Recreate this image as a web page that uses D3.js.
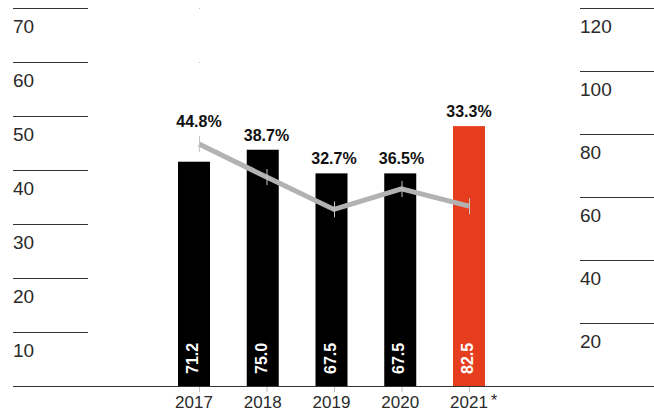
<!DOCTYPE html>
<html>
<head>
<meta charset="utf-8">
<script src="https://cdn.jsdelivr.net/npm/d3@7"></script>
<style>
  html, body { margin: 0; padding: 0; background: #fff; }
  svg { display: block; font-family: "Liberation Sans", Arial, sans-serif; }
</style>
</head>
<body>
<svg id="chart" width="654" height="412"></svg>
<script>
// Years shown along the bottom
const years = ["2017", "2018", "2019", "2020", "2021"];
// Bar series (right axis, 0–120)
const barValues = [71.2, 75.0, 67.5, 67.5, 82.5];
// Line series in percent (left axis, 0–70)
const pctValues = [44.8, 38.7, 32.7, 36.5, 33.3];
// Axis tick labels
const leftTicks = [10, 20, 30, 40, 50, 60, 70];
const rightTicks = [20, 40, 60, 80, 100, 120];
// Years carrying a footnote marker
const footnoted = ["2021"];
const highlightYear = "2021";

const svg = d3.select("#chart");
const baseY = 386, topY = 8;

const yLeft = d3.scaleLinear().domain([0, 70]).range([baseY, topY]);
const yRight = d3.scaleLinear().domain([0, 120]).range([baseY, topY]);
const xBar = d3.scalePoint().domain(years).range([194, 469]);
const xLine = d3.scalePoint().domain(years).range([199, 469]);
const barW = 32;

// Left axis: short rules with labels below
const leftAxis = d3.axisRight(yLeft).tickValues(leftTicks).tickSize(75).tickFormat(d3.format("d"));
const gl = svg.append("g").attr("transform", "translate(13,0)").call(leftAxis);
gl.select(".domain").remove();
gl.selectAll(".tick line").attr("stroke", "#333").attr("stroke-width", 1);
gl.selectAll(".tick text")
  .attr("x", 0).attr("dy", 24).attr("text-anchor", "start")
  .attr("fill", "#2a2a2a").style("font-size", "19px").style("font-family", "'Liberation Sans', Arial, sans-serif");

// Right axis
const rightAxis = d3.axisRight(yRight).tickValues(rightTicks).tickSize(74).tickFormat(d3.format("d"));
const gr = svg.append("g").attr("transform", "translate(580,0)").call(rightAxis);
gr.select(".domain").remove();
gr.selectAll(".tick line").attr("stroke", "#333").attr("stroke-width", 1);
gr.selectAll(".tick text")
  .attr("x", 0).attr("dy", 24).attr("text-anchor", "start")
  .attr("fill", "#2a2a2a").style("font-size", "19px").style("font-family", "'Liberation Sans', Arial, sans-serif");

// Faint dotted guide at the first category
svg.append("line")
  .attr("x1", xLine(years[0]) + 0.5).attr("x2", xLine(years[0]) + 0.5)
  .attr("y1", topY).attr("y2", baseY)
  .attr("stroke", "#999").attr("stroke-width", 1)
  .attr("stroke-dasharray", "1," + (yLeft(0) - yLeft(10) - 1))
  .attr("opacity", 0.6);

// Bars
svg.append("g").selectAll("rect").data(years).join("rect")
  .attr("x", d => xBar(d) - barW / 2)
  .attr("width", barW)
  .attr("y", (d, i) => yRight(barValues[i]))
  .attr("height", (d, i) => baseY - yRight(barValues[i]))
  .attr("fill", d => d === highlightYear ? "#e63d1e" : "#000");

// Bar values, rotated, near the bottom
svg.append("g").selectAll("text").data(years).join("text")
  .attr("transform", d => `translate(${xBar(d) - 1.5},${baseY - 12}) rotate(-90)`)
  .attr("dy", "0.35em")
  .attr("fill", "#fff")
  .style("font-size", "16px").style("font-weight", "bold")
  .text((d, i) => barValues[i].toFixed(1));

// Baseline
svg.append("line")
  .attr("x1", 13).attr("x2", 654).attr("y1", baseY + 0.5).attr("y2", baseY + 0.5)
  .attr("stroke", "#333").attr("stroke-width", 1.2);

// Small ticks below the baseline
svg.append("g").selectAll("line").data(years).join("line")
  .attr("x1", d => xLine(d) + 0.5).attr("x2", d => xLine(d) + 0.5)
  .attr("y1", baseY + 1).attr("y2", baseY + 6)
  .attr("stroke", "#bbb").attr("stroke-width", 1);

// Percent line
const line = d3.line().x((d, i) => xLine(years[i])).y(d => yLeft(d));
svg.append("path").datum(pctValues)
  .attr("d", line).attr("fill", "none")
  .attr("stroke", "#b2b2b2").attr("stroke-width", 5);

// Vertical markers at each point
svg.append("g").selectAll("line").data(years).join("line")
  .attr("x1", d => xLine(d) + 0.5).attr("x2", d => xLine(d) + 0.5)
  .attr("y1", (d, i) => yLeft(pctValues[i]) - 8)
  .attr("y2", (d, i) => yLeft(pctValues[i]) + 8)
  .attr("stroke", "#c4c4c4").attr("stroke-width", 1);

// Percent labels above the higher of bar top and point
svg.append("g").selectAll("text").data(years).join("text")
  .attr("x", d => xLine(d))
  .attr("y", (d, i) => Math.min(yRight(barValues[i]), yLeft(pctValues[i]) - 8) - 9)
  .attr("text-anchor", "middle")
  .attr("fill", "#111")
  .style("font-size", "16px").style("font-weight", "bold")
  .text((d, i) => pctValues[i].toFixed(1) + "%");

// Year labels
const xl = svg.append("g").selectAll("text").data(years).join("text")
  .attr("y", 408)
  .attr("fill", "#2a2a2a")
  .style("font-size", "17px");
xl.each(function(d) {
  const t = d3.select(this).text(d);
  const w = this.getComputedTextLength();
  t.attr("x", xBar(d) - w / 2).attr("text-anchor", "start");
  if (footnoted.includes(d)) {
    t.append("tspan").attr("dx", 3).attr("dy", -2).style("font-size", "16px").text("*");
  }
});
</script>
</body>
</html>
